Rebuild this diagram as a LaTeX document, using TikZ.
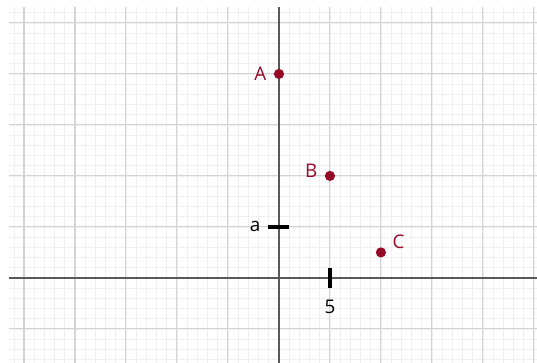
\documentclass[tikz,border=0pt]{standalone}
\usepackage{fontspec}
\setmainfont{Open Sans}
\usepackage{tikz}
\usetikzlibrary{positioning}
\definecolor{ptred}{RGB}{150,10,40}

\begin{document}
\begin{tikzpicture}[
	minor/.style={draw=black!6,line width=0.3pt},
	major/.style={draw=black!17,line width=0.6pt},
	axis/.style={draw=black!65,line width=0.8pt},
	tick/.style={line width=1.9pt},
	pt/.style={circle,fill=ptred,inner sep=0pt,minimum size=2mm},
	lab/.style={font=\fontsize{10.5}{12}\selectfont,text=ptred,inner sep=1pt},
	txt/.style={font=\fontsize{10.5}{12}\selectfont,inner sep=1pt}
	]
	\useasboundingbox (-5.47,-1.667) rectangle (5.06,5.45);
	\fill[white] (-5.47,-1.667) rectangle (5.06,5.45);
	\draw[minor] (-5.29,-1.667) grid[step=0.2] (5.06,5.31);
	\draw[major] (-5.29,-1.667) grid[step=1] (5.06,5.31);
	\draw[axis] (-5.29,0) -- (5.06,0);
	\draw[axis] (0,-1.667) -- (0,5.31);
	
	\draw[tick] (-0.22,1) -- (0.2,1);
	\draw[tick] (1,0.2) -- (1,-0.2);
	\node[txt] (ta) at (-0.47,1) {a};
	\node[txt] (t5) at (1,-0.57) {5};
	
	\node[pt] (A) at (0,4) {};
	\node[pt] (B) at (1,2) {};
	\node[pt] (C) at (2,0.5) {};
	\node[lab,left=0.1 of A] (lA) {A};
	\node[lab,left=0.1 of B,yshift=1mm] (lB) {B};
	\node[lab,right=0.08 of C,yshift=2.1mm] (lC) {C};
\end{tikzpicture}
\end{document}
